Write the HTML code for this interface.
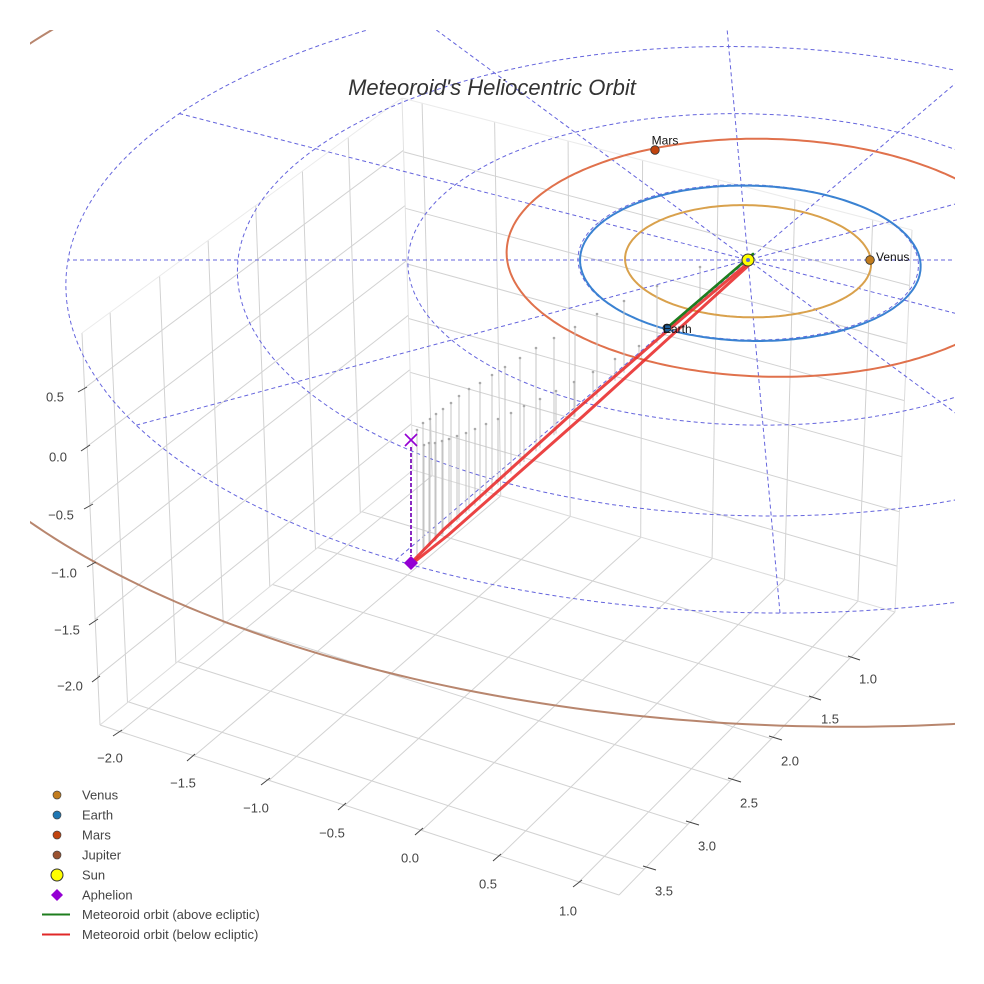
<!DOCTYPE html>
<html><head><meta charset="utf-8"><style>
html,body{margin:0;padding:0;background:#fff;}
svg{display:block;font-family:"Liberation Sans",Arial,sans-serif;}
</style></head><body>
<svg id="s" width="984" height="984" viewBox="0 0 984 984" xmlns="http://www.w3.org/2000/svg">
<defs><clipPath id="cp"><rect x="30" y="30" width="925" height="930"/></clipPath></defs>
<rect width="984" height="984" fill="#fff"/>
<g id="grid" fill="none" stroke-width="1"></g>
<g id="polar" clip-path="url(#cp)" stroke="#6565dd" stroke-width="1" stroke-dasharray="4,3" fill="none"></g>
<g id="orb" clip-path="url(#cp)" fill="none" stroke-width="2"></g>
<g id="stems" stroke="#c4c4c4" stroke-width="1"></g>
<g id="stemdots" fill="#aaa"></g>
<!-- meteoroid orbit -->
<g fill="none" stroke-linecap="round" stroke-linejoin="round">
<polyline points="748,263 661.9,335.5 576.8,409.3 443.4,529.8 412,562" stroke="#e82a2a" stroke-width="3" opacity="0.88"/>
<polyline points="749,265 666.3,340.3 583.2,416.0 448.3,535.0 413,563" stroke="#e82a2a" stroke-width="3" opacity="0.88"/>
<line x1="753" y1="254" x2="668" y2="327" stroke="#1e7d1e" stroke-width="2.6"/>
</g>
<!-- aphelion -->
<line x1="411" y1="447" x2="411" y2="556" stroke="#8a2bc2" stroke-width="2" stroke-dasharray="4,2"/>
<path d="M405,434 L417,446 M417,434 L405,446" stroke="#9400d3" stroke-width="1.6"/>
<path d="M411,556 L418,563 L411,570 L404,563 Z" fill="#9400d3"/>
<!-- planets -->
<circle cx="655" cy="150" r="4.3" fill="#c1440e" stroke="#333" stroke-width="0.8"/>
<circle cx="870" cy="260" r="4.3" fill="#c27c1e" stroke="#333" stroke-width="0.8"/>
<circle cx="667" cy="328" r="4" fill="#1f5f9a" stroke="#222" stroke-width="0.8"/>
<circle cx="748" cy="260" r="6" fill="#ffff00" stroke="#333" stroke-width="1"/>
<circle cx="748" cy="260" r="2" fill="#5a6ad0"/>
<g font-size="12" fill="#111">
<text x="665" y="144.5" text-anchor="middle">Mars</text>
<text x="876" y="261">Venus</text>
<text x="663" y="333">Earth</text>
</g>
<!-- ticks -->
<g stroke="#444" stroke-width="1">
<line x1="113" y1="736" x2="122" y2="730"/><line x1="187" y1="761" x2="195" y2="754"/>
<line x1="261" y1="785" x2="270" y2="778"/><line x1="338" y1="810" x2="346" y2="803"/>
<line x1="415" y1="835" x2="423" y2="828"/><line x1="493" y1="861" x2="501" y2="854"/>
<line x1="573" y1="887" x2="582" y2="880"/>
<line x1="848" y1="656" x2="860" y2="660"/><line x1="809" y1="696" x2="821" y2="700"/>
<line x1="769" y1="736" x2="782" y2="740"/><line x1="728" y1="778" x2="741" y2="782"/>
<line x1="686" y1="821" x2="699" y2="825"/><line x1="643" y1="866" x2="656" y2="870"/>
<line x1="78" y1="392" x2="87" y2="387"/><line x1="81" y1="451" x2="90" y2="445"/>
<line x1="84" y1="509" x2="93" y2="504"/><line x1="87" y1="567" x2="96" y2="562"/>
<line x1="89" y1="625" x2="98" y2="619"/><line x1="92" y1="682" x2="100" y2="676"/>
</g>
<g font-size="13" fill="#444" text-anchor="middle">
<text x="110" y="762.5">−2.0</text><text x="183" y="787.5">−1.5</text>
<text x="256" y="812.5">−1.0</text><text x="332" y="837.5">−0.5</text>
<text x="410" y="862.5">0.0</text><text x="488" y="888.5">0.5</text>
<text x="568" y="915.5">1.0</text>
<text x="868" y="683.5">1.0</text><text x="830" y="723.5">1.5</text>
<text x="790" y="765.5">2.0</text><text x="749" y="807.5">2.5</text>
<text x="707" y="850.5">3.0</text><text x="664" y="895.5">3.5</text>
<text x="55" y="401.5">0.5</text><text x="58" y="461.5">0.0</text>
<text x="61" y="519.5">−0.5</text><text x="64" y="577.5">−1.0</text>
<text x="67" y="634.5">−1.5</text><text x="70" y="690.5">−2.0</text>
</g>
<!-- title -->
<text x="492" y="95" font-size="22" font-style="italic" fill="#333" text-anchor="middle">Meteoroid's Heliocentric Orbit</text>
<!-- legend -->
<g>
<circle cx="57" cy="795" r="4" fill="#c27c1e" stroke="#444" stroke-width="0.7"/>
<circle cx="57" cy="815" r="4" fill="#1f77b4" stroke="#444" stroke-width="0.7"/>
<circle cx="57" cy="835" r="4" fill="#c1440e" stroke="#444" stroke-width="0.7"/>
<circle cx="57" cy="855" r="4" fill="#9a5230" stroke="#444" stroke-width="0.7"/>
<circle cx="57" cy="875" r="6" fill="#ffff00" stroke="#333" stroke-width="1"/>
<path d="M57,889 L63,895 L57,901 L51,895 Z" fill="#9400d3"/>
<line x1="42" y1="914.5" x2="70" y2="914.5" stroke="#1e7d1e" stroke-width="2"/>
<line x1="42" y1="934.5" x2="70" y2="934.5" stroke="#e02828" stroke-width="2"/>
<g font-size="13" fill="#444">
<text x="82" y="799.5">Venus</text><text x="82" y="819.5">Earth</text>
<text x="82" y="839.5">Mars</text><text x="82" y="859.5">Jupiter</text>
<text x="82" y="879.5">Sun</text><text x="82" y="899.5">Aphelion</text>
<text x="82" y="919">Meteoroid orbit (above ecliptic)</text>
<text x="82" y="939">Meteoroid orbit (below ecliptic)</text>
</g>
</g>
</svg>
<script>
(function(){
var NS='http://www.w3.org/2000/svg';
function mk(tag,attrs,parent){var e=document.createElementNS(NS,tag);for(var k in attrs)e.setAttribute(k,attrs[k]);parent.appendChild(e);return e;}
function sq2quad(q){
  var x0=q[0][0],y0=q[0][1],x1=q[1][0],y1=q[1][1],x2=q[2][0],y2=q[2][1],x3=q[3][0],y3=q[3][1];
  var dx1=x1-x2,dx2=x3-x2,dx3=x0-x1+x2-x3,dy1=y1-y2,dy2=y3-y2,dy3=y0-y1+y2-y3;
  var den=dx1*dy2-dx2*dy1;
  var g=(dx3*dy2-dx2*dy3)/den,h=(dx1*dy3-dx3*dy1)/den;
  var a=x1-x0+g*x1,b=x3-x0+h*x3,c=x0,d=y1-y0+g*y1,e=y3-y0+h*y3,f=y0;
  return function(s,t){var w=g*s+h*t+1;return [(a*s+b*t+c)/w,(d*s+e*t+f)/w];};
}
var X0=-2.14,X1=1.25,Y0=0.40,Y1=3.78,Z0=-2.43,Z1=0.97;
var A=[100,725],B=[619,895],C=[895,612],D=[413,470],A2=[82,333],D2=[402,98],C2=[912,230];
var F=sq2quad([D,C,B,A]),L=sq2quad([D,A,A2,D2]),K=sq2quad([D,C,C2,D2]);
function fx(x){return (x-X0)/(X1-X0);}function fy(y){return (y-Y0)/(Y1-Y0);}function fz(z){return (z-Z0)/(Z1-Z0);}
var G=document.getElementById('grid');
function ln(p,q,col){mk('line',{x1:p[0].toFixed(1),y1:p[1].toFixed(1),x2:q[0].toFixed(1),y2:q[1].toFixed(1),stroke:col||'#d2d2d2'},G);}
var xs=[-2,-1.5,-1,-0.5,0,0.5,1],ys=[1,1.5,2,2.5,3,3.5],zs=[-2,-1.5,-1,-0.5,0,0.5];
xs.forEach(function(x){ln(F(fx(x),0),F(fx(x),1));ln(K(fx(x),0),K(fx(x),1));});
ys.forEach(function(y){ln(F(0,fy(y)),F(1,fy(y)));ln(L(fy(y),0),L(fy(y),1));});
zs.forEach(function(z){ln(L(0,fz(z)),L(1,fz(z)));ln(K(0,fz(z)),K(1,fz(z)));});
ln(A,B);ln(B,C);ln(C,D,'#dcdcdc');ln(D,A,'#dcdcdc');ln(A,A2);ln(C,C2,'#dcdcdc');ln(D,D2,'#e2e2e2');
ln(A2,D2,'#ebebeb');ln(D2,C2,'#ebebeb');
function P0(u,v){var w=1-0.0302*v;return [(170*u-15.56*v+748)/w,(69.75*v+260)/w];}
function ell(cu,cv,r,n){var d='';for(var i=0;i<=n;i++){var t=2*Math.PI*i/n;var p=P0(cu+r*Math.cos(t),cv+r*Math.sin(t));d+=(i?'L':'M')+p[0].toFixed(1)+','+p[1].toFixed(1);}return d+'Z';}
var PG=document.getElementById('polar');
[1,2,3,4].forEach(function(r){mk('path',{d:ell(0,0,r,240)},PG);});
for(var k=0;k<6;k++){var t=k*Math.PI/6;var p=P0(4*Math.cos(t),4*Math.sin(t)),q=P0(-4*Math.cos(t),-4*Math.sin(t));
  mk('line',{x1:p[0].toFixed(1),y1:p[1].toFixed(1),x2:q[0].toFixed(1),y2:q[1].toFixed(1)},PG);}
var O=document.getElementById('orb');
mk('path',{d:ell(0.29,-0.38,5.47,400),stroke:'#b47f66','stroke-opacity':'0.95'},O);
mk('path',{d:ell(0.12,-0.1,1.54,300),stroke:'#e0714c'},O);
mk('path',{d:ell(0.012,0.012,1.0,300),stroke:'#3a82d2'},O);
mk('path',{d:ell(0,0,0.723,240),stroke:'#d9a14c'},O);
var S=document.getElementById('stems'),SD=document.getElementById('stemdots');
function redY(x){return 263+0.8925*(747-x);}
var r1=[[417,430],[423,423],[430,419],[436,414],[443,409],[451,403],[459,396],[469,389],[480,383],[492,375],[505,367],[520,358],[536,348],[554,338],[575,327],[597,314],[624,301],[657,286],[700,267]];
var r2=[[424,445],[429,443],[435,443],[442,441],[449,439],[457,436],[466,433],[475,429],[486,424],[498,419],[511,413],[524,406],[540,399],[556,391],[574,382],[593,372],[615,359],[639,346]];
r1.concat(r2).forEach(function(p){var b=redY(p[0]);mk('line',{x1:p[0],y1:p[1],x2:p[0],y2:b.toFixed(1)},S);mk('circle',{cx:p[0],cy:p[1],r:1.3},SD);});
})();
</script>
</body></html>
